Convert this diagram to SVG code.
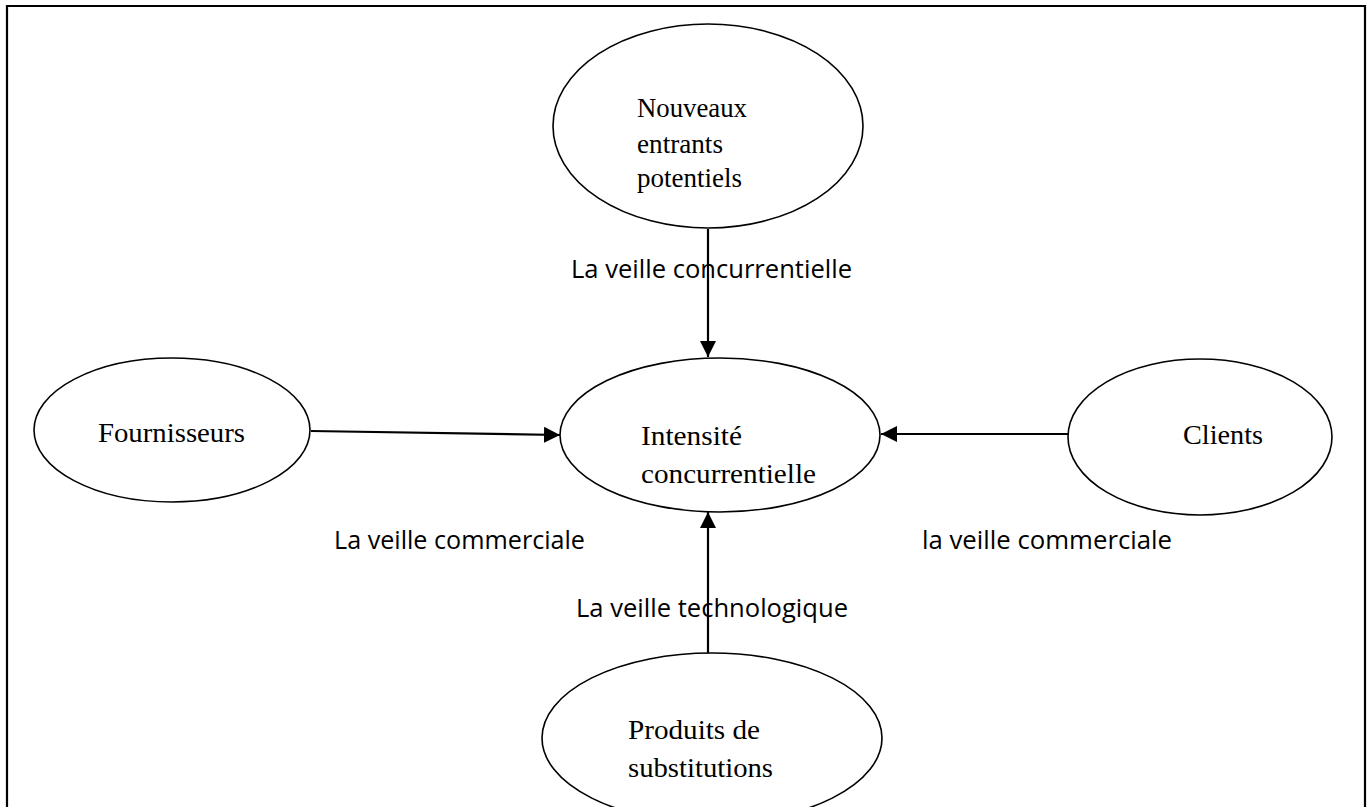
<svg xmlns="http://www.w3.org/2000/svg" width="1371" height="807" viewBox="0 0 1371 807">
<style>
.node{fill:#fff;stroke:#000;stroke-width:1.6}
.nt{font-family:"Liberation Serif","Times New Roman",serif;font-size:27px;fill:#000}
.lb{font-family:"Open Sans","Noto Sans",sans-serif;font-size:26px;fill:#000}
.conn{stroke:#000;stroke-width:2.2;fill:none}
</style>
<defs>
<marker id="ah" markerUnits="userSpaceOnUse" markerWidth="18" markerHeight="16" refX="16" refY="8" orient="auto">
<path d="M0,0 L16,8 L0,16 Z" fill="#000"/>
</marker>
</defs>
<rect x="0" y="0" width="1371" height="807" fill="#fff"/>
<path d="M7,830 V6 H1365 V830" fill="none" stroke="#000" stroke-width="2.2"/>
<g id="connectors">
<line class="conn" x1="708" y1="229" x2="708" y2="357" marker-end="url(#ah)"/>
<line class="conn" x1="311" y1="431" x2="560" y2="435" marker-end="url(#ah)"/>
<line class="conn" x1="1068" y1="434" x2="881" y2="434" marker-end="url(#ah)"/>
<line class="conn" x1="708" y1="653" x2="708" y2="512" marker-end="url(#ah)"/>
</g>
<g id="node-nouveaux">
<ellipse class="node" cx="708" cy="126" rx="155" ry="102"/>
<text class="nt" x="637" y="117" textLength="110" lengthAdjust="spacingAndGlyphs">Nouveaux</text>
<text class="nt" x="637" y="153" textLength="86" lengthAdjust="spacingAndGlyphs">entrants</text>
<text class="nt" x="637" y="187" textLength="105" lengthAdjust="spacingAndGlyphs">potentiels</text>
</g>
<g id="node-intensite">
<ellipse class="node" cx="720" cy="435" rx="160" ry="77"/>
<text class="nt" x="641" y="445" textLength="101" lengthAdjust="spacingAndGlyphs">Intensité</text>
<text class="nt" x="641" y="483" textLength="175" lengthAdjust="spacingAndGlyphs">concurrentielle</text>
</g>
<g id="node-fournisseurs">
<ellipse class="node" cx="172" cy="430" rx="138" ry="72"/>
<text class="nt" x="98" y="442" textLength="147" lengthAdjust="spacingAndGlyphs">Fournisseurs</text>
</g>
<g id="node-clients">
<ellipse class="node" cx="1200" cy="437" rx="132" ry="78"/>
<text class="nt" x="1183" y="444" textLength="80" lengthAdjust="spacingAndGlyphs">Clients</text>
</g>
<g id="node-produits">
<ellipse class="node" cx="712" cy="738" rx="170" ry="85"/>
<text class="nt" x="628" y="739" textLength="132" lengthAdjust="spacingAndGlyphs">Produits de</text>
<text class="nt" x="628" y="777" textLength="145" lengthAdjust="spacingAndGlyphs">substitutions</text>
</g>
<g id="labels">
<text class="lb" x="571" y="278" textLength="281" lengthAdjust="spacingAndGlyphs">La veille concurrentielle</text>
<text class="lb" x="334" y="549" textLength="251" lengthAdjust="spacingAndGlyphs">La veille commerciale</text>
<text class="lb" x="922" y="549" textLength="250" lengthAdjust="spacingAndGlyphs">la veille commerciale</text>
<text class="lb" x="576" y="617" textLength="272" lengthAdjust="spacingAndGlyphs">La veille technologique</text>
</g>
</svg>
